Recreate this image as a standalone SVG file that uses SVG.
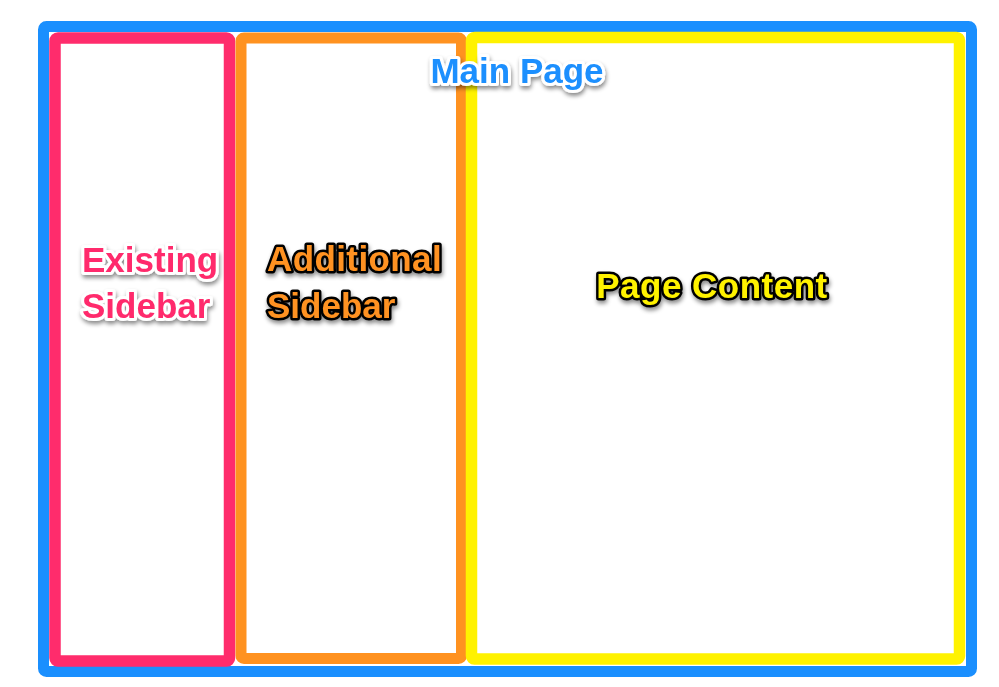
<svg xmlns="http://www.w3.org/2000/svg" width="999" height="687" viewBox="0 0 999 687">
  <defs>
    <filter id="shadow" x="-20%" y="-40%" width="140%" height="180%">
      <feDropShadow dx="1" dy="3" stdDeviation="2" flood-color="#000" flood-opacity="0.45"/>
    </filter>
    <style>
      .frame { fill: #fff; stroke-linejoin: round; }
      .label { font-family: "Liberation Sans", Arial, sans-serif; font-weight: bold; font-size: 35px; paint-order: stroke; stroke-linejoin: round; filter: url(#shadow); }
      .light { stroke: #fff; stroke-width: 6px; }
      .dark { stroke: #000; stroke-width: 5px; }
    </style>
  </defs>
  <rect width="999" height="687" fill="#fff"/>
  <g id="main-page">
    <rect class="frame" x="43.5" y="26.5" width="928" height="645" rx="3" stroke="#1a8ffe" stroke-width="11"/>
    <g id="existing-sidebar">
      <rect class="frame" x="55" y="38" width="174.5" height="623" rx="3" stroke="#ff2c6c" stroke-width="11.5"/>
      <text class="label light" fill="#ff2c6c" x="82" y="272">Existing</text>
      <text class="label light" fill="#ff2c6c" x="82" y="318">Sidebar</text>
    </g>
    <g id="additional-sidebar">
      <rect class="frame" x="241" y="38" width="220.5" height="620.5" rx="3" stroke="#ff9220" stroke-width="11"/>
      <text class="label dark" fill="#ff9220" x="267" y="271" letter-spacing="0.4">Additional</text>
      <text class="label dark" fill="#ff9220" x="267" y="318">Sidebar</text>
    </g>
    <g id="page-content">
      <rect class="frame" x="471.5" y="37.5" width="488" height="621.5" rx="3" stroke="#fff200" stroke-width="11.5"/>
      <text class="label dark" fill="#fff200" x="712" y="298" text-anchor="middle" letter-spacing="0.5">Page Content</text>
    </g>
    <text class="label light" fill="#1a8ffe" x="517" y="83" text-anchor="middle">Main Page</text>
  </g>
</svg>
